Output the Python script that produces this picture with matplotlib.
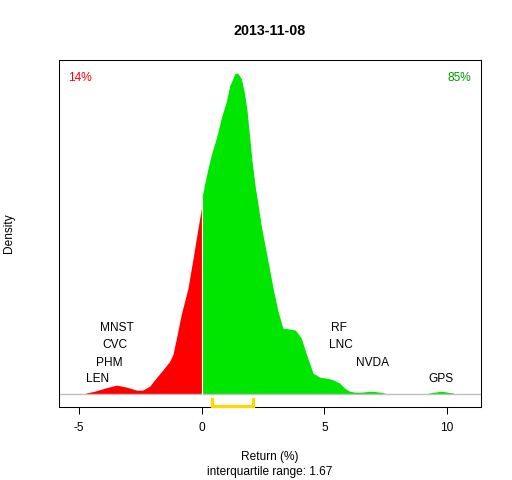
import matplotlib as mpl

mpl.use("Agg")
import matplotlib.pyplot as plt
import numpy as np

plt.rcParams["font.family"] = ["Liberation Sans", "DejaVu Sans"]

TITLE = "2013-11-08"
# density of returns (return %, density)
neg_x = [-4.73, -4.36, -3.95, -3.48, -3.06, -2.66, -2.41, -2.12, -1.83, -1.59,
         -1.30, -1.17, -1.03, -0.83, -0.56, -0.35, -0.15, -0.01]
neg_y = [0.001, 0.003, 0.006, 0.009, 0.007, 0.004, 0.004, 0.008, 0.017, 0.024,
         0.033, 0.040, 0.056, 0.080, 0.106, 0.136, 0.166, 0.186]
pos_x = [0.01, 0.12, 0.26, 0.40, 0.60, 0.80, 1.01, 1.14, 1.35, 1.46, 1.62, 1.75,
         1.85, 1.96, 2.05, 2.19, 2.32, 2.43, 2.57, 2.91, 3.11, 3.31, 3.59, 3.82,
         4.06, 4.27, 4.54, 4.81, 5.29, 5.63, 5.83, 6.03, 6.24, 6.52, 6.92, 7.26,
         7.46, 7.60, 9.15, 9.25, 9.77, 10.27]
pos_y = [0.196, 0.210, 0.226, 0.240, 0.256, 0.276, 0.293, 0.308, 0.320, 0.321,
         0.315, 0.300, 0.283, 0.256, 0.233, 0.206, 0.186, 0.168, 0.150, 0.106,
         0.083, 0.066, 0.065, 0.064, 0.056, 0.040, 0.021, 0.017, 0.015, 0.011,
         0.006, 0.003, 0.002, 0.002, 0.003, 0.002, 0.001, 0.0, 0.0, 0.001,
         0.003, 0.001]

low_names = ["LEN", "PHM", "CVC", "MNST"]
low_ret = [-4.25, -3.75, -3.52, -3.44]
high_names = ["RF", "LNC", "NVDA", "GPS"]
high_ret = [5.59, 5.66, 6.96, 9.74]
label_levels = [0.0153, 0.0313, 0.0487, 0.0657]
high_levels = [0.0657, 0.0487, 0.0313, 0.0153]

pct_down, pct_up = "14%", "85%"
q1, q3 = 0.43, 2.10
iqr = 1.67

RED, GREEN, DKGREEN, GOLD = "#ff0000", "#00e600", "#009a00", "#ffd700"

fig = plt.figure(figsize=(5.12, 4.8), dpi=100, facecolor="white")
ax = fig.add_axes([59 / 512, 73 / 480, 422 / 512, 347 / 480])

ax.fill_between(neg_x, 0, neg_y, color=RED, lw=0)
ax.fill_between(pos_x, 0, pos_y, color=GREEN, lw=0)
ax.plot([0, 0], [0, pos_y[0]], color="white", lw=0.8)
ax.axhline(0, color="#bebebe", lw=1.0, zorder=1)

for name, r, lv in zip(low_names, low_ret, label_levels):
    ax.text(r, lv, name, ha="center", va="center", fontsize=8.6, color="black")
for name, r, lv in zip(high_names, high_ret, high_levels):
    ax.text(r, lv, name, ha="center", va="center", fontsize=8.6, color="black")

ax.text(0.050, 0.949, pct_down, transform=ax.transAxes, ha="center", va="center",
        fontsize=8.6, color=RED)
ax.text(0.948, 0.949, pct_up, transform=ax.transAxes, ha="center", va="center",
        fontsize=8.6, color=DKGREEN)

ymax = max(pos_y)
ax.set_ylim(-0.04 * ymax, 1.04 * ymax)
ax.set_xlim(-5.82, 11.39)
ylo = ax.get_ylim()[0]
ax.plot([q1, q1, q3, q3], [-0.005, ylo * 0.93, ylo * 0.93, -0.005], color=GOLD,
        lw=2.3, solid_joinstyle="miter", clip_on=False, zorder=4)

ax.set_xticks([-5, 0, 5, 10])
ax.set_xticklabels(["-5", "0", "5", "10"])
ax.set_yticks([])
ax.tick_params(axis="x", length=5, width=0.72, pad=6, labelsize=8.6)
for sp in ax.spines.values():
    sp.set_linewidth(0.75)

fig.text(270 / 512, 1 - 31 / 480, TITLE, ha="center", va="center",
         fontsize=10.3, fontweight="bold")
fig.text(270 / 512, 1 - 457 / 480, "Return (%)", ha="center", va="center", fontsize=8.6)
fig.text(270 / 512, 1 - 472 / 480, f"interquartile range: {iqr:.2f}", ha="center",
         va="center", fontsize=8.6)
fig.text(9 / 512, 1 - 233 / 480, "Density", ha="center", va="center", rotation=90,
         fontsize=8.6)

fig.savefig("out.png", dpi=100, facecolor="white")
